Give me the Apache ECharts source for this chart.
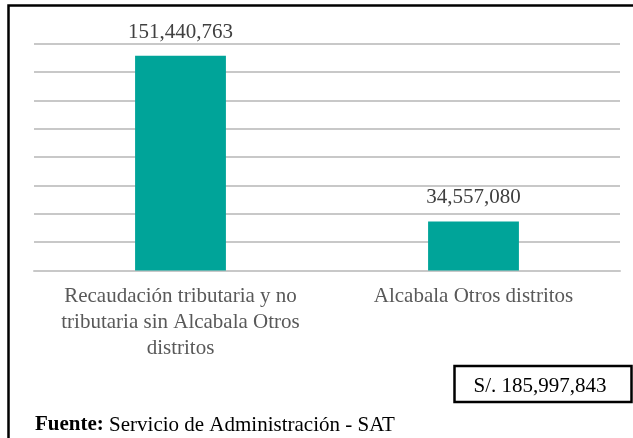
<!DOCTYPE html>
<html>
<head>
<meta charset="utf-8">
<script src="https://cdn.jsdelivr.net/npm/echarts@6/dist/echarts.min.js"></script>
<style>
html,body{margin:0;padding:0;background:#fff;}
#c{width:633px;height:438px;}
</style>
</head>
<body>
<div id="c"></div>
<script>
const categories = ['Recaudación tributaria y no\ntributaria sin Alcabala Otros\ndistritos', 'Alcabala Otros distritos'];
const values = [151440763, 34557080];
const yTicks = { min: 0, max: 160000000, interval: 20000000 };
const totalLabel = 'S/. 185,997,843';
const sourceBold = 'Fuente:';
const sourceText = ' Servicio de Administración - SAT';

const fmt = v => Number(v).toLocaleString('en-US');
const FONT = '"Liberation Serif", "Times New Roman", serif';

const chart = echarts.init(document.getElementById('c'), null, { renderer: 'canvas' });
chart.setOption({
  backgroundColor: '#ffffff',
  animation: false,
  grid: { left: 34, right: 13, top: 43.5, bottom: 167.5, containLabel: false },
  xAxis: {
    type: 'category',
    data: categories,
    axisTick: { show: false },
    axisLine: { lineStyle: { color: '#c8c8c8', width: 2 } },
    axisLabel: {
      interval: 0,
      margin: 13,
      color: '#595959',
      fontFamily: FONT,
      fontSize: 21,
      lineHeight: 26
    }
  },
  yAxis: {
    type: 'value',
    min: yTicks.min,
    max: yTicks.max,
    interval: yTicks.interval,
    axisLabel: { show: false },
    axisLine: { show: false },
    axisTick: { show: false },
    splitLine: { lineStyle: { color: '#c8c8c8', width: 2 } }
  },
  series: [{
    type: 'bar',
    data: values,
    barWidth: '31%',
    itemStyle: { color: '#00a499' },
    label: {
      show: true,
      position: 'top',
      distance: 13,
      color: '#404040',
      fontFamily: FONT,
      fontSize: 21,
      formatter: p => fmt(p.value)
    }
  }],
  graphic: [
    {
      type: 'rect',
      shape: { x: 8.5, y: 5.5, width: 700, height: 500 },
      style: { fill: 'none', stroke: '#000', lineWidth: 2.5 },
      silent: true
    },
    {
      type: 'rect',
      shape: { x: 454.5, y: 366, width: 177, height: 36 },
      style: { fill: '#fff', stroke: '#000', lineWidth: 2.5 },
      silent: true
    },
    {
      type: 'text',
      x: 540, y: 386,
      style: {
        text: totalLabel,
        fill: '#000',
        font: '21px ' + FONT,
        textAlign: 'center',
        textVerticalAlign: 'middle'
      },
      silent: true
    },
    {
      type: 'text',
      x: 35, y: 425,
      style: {
        text: '{b|' + sourceBold + '}{n|' + sourceText + '}',
        textVerticalAlign: 'middle',
        rich: {
          b: { fontFamily: FONT, fontSize: 21, fontWeight: 'bold', fill: '#000' },
          n: { fontFamily: FONT, fontSize: 21, fill: '#000' }
        }
      },
      silent: true
    }
  ]
});
</script>
</body>
</html>
